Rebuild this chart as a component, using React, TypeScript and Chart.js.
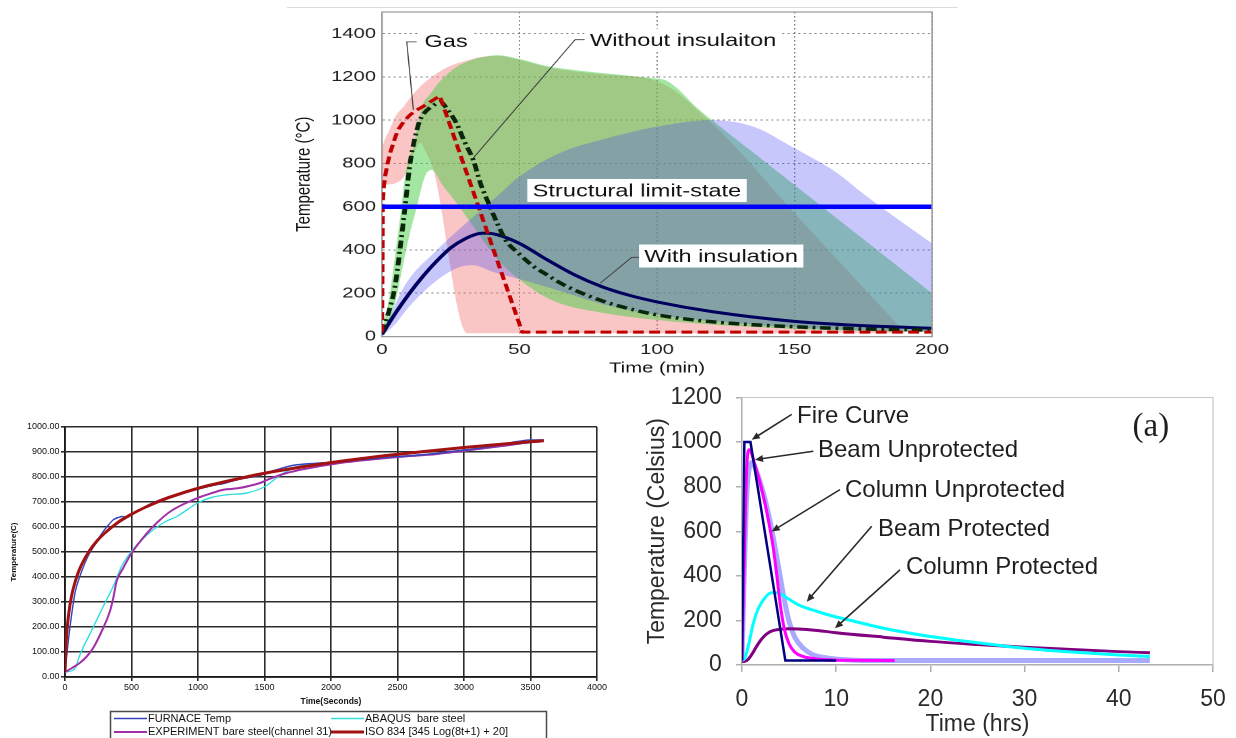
import React, { useEffect, useRef } from "react";
import { Chart, registerables } from "chart.js";

Chart.register(...registerables);

const SANS = '"Liberation Sans", Arial, Helvetica, sans-serif';
const SERIF = '"Liberation Serif", "Times New Roman", Times, serif';

type XY = { x: number; y: number };
const pts = (xs: number[], ys: number[]): XY[] => xs.map((x, i) => ({ x, y: ys[i] }));

/* ================= Upper panel: temperatures over minutes ================= */
const minuteTicks = [0, 50, 100, 150, 200];
const upperTempTicks = [0, 200, 400, 600, 800, 1000, 1200, 1400];

const limitTime = [0, 200];
const limitTemp = [600, 600];

const gasTime = [0, 0.3, 0.7, 1.2, 2, 3, 4, 5, 6, 8, 10, 12, 15, 18, 21, 51, 200];
const gasTemp = [20, 620, 700, 745, 800, 850, 890, 928, 958, 995, 1022, 1042, 1064, 1088, 1112, 20, 20];

const bareTime = [0, 2, 4.7, 6.5, 8.4, 10.2, 12, 13.8, 15.5, 17.5, 19.5, 21.1, 24, 27.1, 30, 33.2, 36, 39.3, 42, 45, 50, 55, 60, 65, 70, 80, 90, 100, 120, 150, 175, 200];
const bareTemp = [20, 95, 230, 400, 600, 800, 920, 1000, 1035, 1058, 1075, 1085, 1045, 985, 900, 815, 700, 600, 520, 445, 380, 325, 285, 246, 215, 165, 128, 100, 68, 45, 35, 30];

const insTime = [0, 5, 10, 15, 20, 25, 30, 35, 38, 42, 50, 60, 70, 80, 90, 100, 120, 150, 175, 200];
const insTemp = [10, 110, 200, 280, 350, 410, 450, 475, 478, 470, 430, 355, 285, 230, 190, 160, 115, 70, 50, 38];

// scatter envelopes (upper / lower bounds)
const gasHiTime = [0, 1, 2.9, 5, 7.8, 10, 13.8, 17, 19.9, 23, 27.2, 32, 36, 41.7, 50, 60, 80, 100, 120, 150, 190];
const gasHiTemp = [870, 910, 960, 1020, 1062, 1100, 1154, 1190, 1216, 1240, 1262, 1280, 1292, 1297, 1278, 1245, 1212, 1180, 985, 570, 20];
const gasLoTime = [0, 6, 9, 12, 14, 16, 18.7, 31, 190];
const gasLoTemp = [700, 715, 760, 860, 895, 850, 769, 15, 15];

const bareHiTime = [0, 2.9, 4.7, 6.5, 8.4, 10, 11.4, 13, 15, 17.5, 20.4, 24, 27.2, 32, 36, 42, 50, 60, 70, 80, 90, 100, 103, 108, 113, 120, 140, 160, 180, 200];
const bareHiTemp = [20, 200, 370, 540, 740, 830, 877, 980, 1077, 1120, 1170, 1215, 1247, 1275, 1290, 1300, 1283, 1250, 1232, 1218, 1205, 1192, 1185, 1140, 1075, 1000, 800, 600, 400, 200];
const bareLoTime = [0, 2, 4.7, 8, 10, 12.7, 15.6, 18.1, 22, 26.3, 32.4, 38.4, 44.5, 50.2, 57, 64.7, 80, 100, 120, 150, 175, 200];
const bareLoTemp = [20, 60, 153, 354, 470, 600, 740, 770, 700, 631, 523, 415, 323, 261, 200, 153, 110, 76, 55, 35, 25, 20];

const insHiTime = [0, 8, 20, 32, 42, 50, 65, 80, 100, 120, 135, 150, 165, 175, 190, 200];
const insHiTemp = [0, 230, 400, 540, 650, 740, 850, 910, 970, 1000, 970, 870, 760, 660, 520, 430];
const insLoTime = [0, 5, 10, 20, 28, 33, 40, 50, 65, 80, 100, 130, 160, 200];
const insLoTemp = [0, 60, 140, 260, 320, 330, 300, 265, 210, 150, 100, 60, 35, 25];

const upperNoteText = ["Gas", "Without insulaiton", "Structural limit-state", "With insulation"];
const upperNoteCenter: number[][] = [[23.3, 1365], [109.5, 1370], [92.7, 675], [123.3, 372]];
const upperNoteLeader: number[][][] = [
  [[12.6, 1362], [9.0, 1362], [11.4, 1047]],
  [[73.8, 1372], [70.2, 1372], [33.2, 825]],
  [],
  [[93.5, 366], [90.8, 366], [79.3, 246]],
];

/* ================= Lower-left panel: furnace test, seconds ================= */
const secondTicks = [0, 500, 1000, 1500, 2000, 2500, 3000, 3500, 4000];
const furnaceTempTicks = [0, 100, 200, 300, 400, 500, 600, 700, 800, 900, 1000];

const isoSec = [0, 5, 10, 20, 30, 45, 60, 90, 120, 180, 240, 300, 400, 500, 600, 750, 900, 1050, 1200, 1500, 1800, 2100, 2400, 2700, 3000, 3300, 3600];
const isoTemp = [20, 96, 147, 215, 261, 312, 349, 404, 444, 502, 544, 576, 619, 651, 678, 712, 739, 762, 781, 815, 842, 865, 885, 902, 918, 932, 945];

const furnaceSec = [0, 20, 40, 75, 110, 150, 190, 226, 260, 288, 330, 363, 400, 430, 460, 500, 600, 700, 800, 900, 1000, 1100, 1200, 1300, 1400, 1500, 1600, 1700, 1800, 1900, 2000, 2100, 2200, 2300, 2400, 2500, 2600, 2700, 2800, 2900, 3000, 3100, 3200, 3300, 3400, 3500, 3600];
const furnaceTemp = [20, 120, 210, 336, 400, 456, 500, 530, 560, 582, 610, 629, 638, 642, 638, 650, 680, 705, 722, 738, 752, 765, 775, 790, 800, 812, 830, 845, 852, 855, 858, 862, 868, 872, 878, 882, 885, 890, 895, 902, 908, 915, 922, 932, 942, 948, 948];

const experimentSec = [0, 50, 113, 160, 213, 276, 338, 363, 388, 438, 501, 600, 689, 800, 965, 1100, 1190, 1300, 1466, 1550, 1667, 1800, 2068, 2300, 2500, 2800, 3000, 3300, 3500, 3600];
const experimentTemp = [20, 35, 57, 80, 117, 183, 263, 316, 383, 436, 496, 565, 616, 665, 709, 735, 749, 755, 776, 795, 816, 832, 856, 870, 880, 892, 905, 925, 940, 945];

const abaqusSec = [0, 70, 113, 213, 288, 363, 426, 501, 580, 664, 750, 840, 1003, 1100, 1216, 1366, 1504, 1600, 1717, 1800, 2000, 2200, 2400, 2600, 2800, 3000, 3200, 3400, 3600];
const abaqusTemp = [20, 30, 90, 200, 283, 363, 443, 503, 550, 589, 620, 642, 698, 718, 729, 736, 762, 800, 836, 848, 858, 866, 876, 884, 893, 905, 918, 932, 945];

const furnaceLabels = ["ISO 834 [345 Log(8t+1) + 20]", "FURNACE Temp", "EXPERIMENT bare steel(channel 31)", "ABAQUS  bare steel"];

/* ================= Lower-right panel: members over hours ================= */
const hourTicks = [0, 10, 20, 30, 40, 50];
const celsiusTicks = [0, 200, 400, 600, 800, 1000, 1200];

const fireHrs = [0, 0.25, 0.9, 4.6, 10];
const fireTemp = [20, 1000, 1000, 20, 20];

const beamUnHrs = [0, 0.25, 0.5, 0.74, 1.5, 2.2, 2.8, 3.3, 3.7, 4.1, 4.5, 5, 5.6, 6.5, 8, 11, 16.2];
const beamUnTemp = [20, 500, 880, 966, 880, 770, 650, 530, 400, 260, 160, 95, 58, 38, 27, 21, 20];

const colUnHrs = [0, 0.2, 0.5, 0.8, 1.05, 1.7, 2.4, 3, 3.5, 4, 4.5, 5, 5.6, 6.5, 7.6, 9, 11, 15, 25, 43.3];
const colUnTemp = [20, 350, 760, 890, 908, 850, 750, 640, 530, 410, 290, 195, 125, 75, 45, 32, 24, 20, 20, 20];

const beamPrHrs = [0, 0.3, 0.7, 1.2, 1.7, 2.27, 2.8, 3.3, 4, 5, 6, 8, 10, 12, 15, 20, 25, 30, 35, 40, 43.3];
const beamPrTemp = [20, 30, 90, 187, 250, 292, 318, 325, 320, 295, 270, 240, 215, 195, 165, 128, 100, 75, 58, 45, 38];

const colPrHrs = [0, 0.5, 1, 1.5, 2, 2.5, 3, 4, 5, 6, 8, 10, 15, 20, 25, 30, 35, 40, 43.3];
const colPrTemp = [15, 20, 45, 80, 112, 135, 150, 160, 163, 162, 155, 145, 125, 106, 92, 80, 69, 60, 55];

const calloutText = ["Fire Curve", "Beam Unprotected", "Column Unprotected", "Beam Protected", "Column Protected"];
const calloutTextAt: number[][] = [[5.84, 1115], [8.07, 962], [10.93, 782], [14.44, 607], [17.4, 440]];
const calloutFrom: number[][] = [[5.28, 1124], [7.57, 959], [10.4, 787], [13.77, 622], [16.77, 427]];
const calloutTo: number[][] = [[1.03, 1011], [1.38, 921], [3.15, 599], [6.87, 284], [9.87, 165]];
const panelTag = "(a)";
const panelTagAt = [43.4, 1065];

/* ================= helpers ================= */
const fixedTicks = (values: number[]) => (s: any) => {
  s.ticks = values.map((v) => ({ value: v }));
};

// pin an axis box to an exact size and stop its labels from pushing the plot area around
const pinWidth = (w: number) => (s: any) => {
  s.width = w;
  s.paddingTop = 0;
  s.paddingBottom = 0;
  s.paddingLeft = 0;
  s.paddingRight = 0;
};
const pinHeight = (h: number) => (s: any) => {
  s.height = h;
  s.paddingTop = 0;
  s.paddingBottom = 0;
  s.paddingLeft = 0;
  s.paddingRight = 0;
};

function ChartBox(props: {
  build: () => any;
  left: number;
  top: number;
  width: number;
  height: number;
  cssWidth?: number;
}) {
  const ref = useRef<HTMLCanvasElement>(null);
  useEffect(() => {
    const chart = new Chart(ref.current as HTMLCanvasElement, props.build());
    return () => chart.destroy();
  }, []);
  return (
    <canvas
      ref={ref}
      width={props.width}
      height={props.height}
      style={{
        position: "absolute",
        left: props.left,
        top: props.top,
        width: props.cssWidth ?? props.width,
        height: props.height,
      }}
    />
  );
}

/* ---------- upper panel ---------- */
function upperConfig() {
  const line = (label: string, data: XY[], extra: any) => ({
    label,
    data,
    pointRadius: 0,
    fill: false,
    ...extra,
  });
  const band = (label: string, data: XY[], color: string | null) => ({
    label,
    data,
    pointRadius: 0,
    borderWidth: 0,
    borderColor: "rgba(0,0,0,0)",
    cubicInterpolationMode: "monotone",
    fill: color ? { target: "+1", above: color, below: color } : false,
  });
  const decor = {
    id: "upperDecor",
    afterDatasetsDraw(chart: any) {
      const { ctx, chartArea: a } = chart;
      const x = chart.scales.x;
      const y = chart.scales.y;
      ctx.save();
      ctx.strokeStyle = "#9a9a9a";
      ctx.lineWidth = 1.2;
      ctx.beginPath();
      ctx.moveTo(a.left, a.top);
      ctx.lineTo(a.right, a.top);
      ctx.lineTo(a.right, a.bottom);
      ctx.stroke();

      ctx.strokeStyle = "#3a3a3a";
      ctx.lineWidth = 0.8;
      upperNoteLeader.forEach((path) => {
        if (!path.length) return;
        ctx.beginPath();
        path.forEach(([t, v], k) => {
          const px = x.getPixelForValue(t);
          const py = y.getPixelForValue(v);
          if (k) ctx.lineTo(px, py);
          else ctx.moveTo(px, py);
        });
        ctx.stroke();
      });

      ctx.font = `17.5px ${SANS}`;
      ctx.textAlign = "center";
      ctx.textBaseline = "middle";
      upperNoteText.forEach((txt, i) => {
        const cx = x.getPixelForValue(upperNoteCenter[i][0]);
        const cy = y.getPixelForValue(upperNoteCenter[i][1]);
        const w = ctx.measureText(txt).width + 8;
        ctx.fillStyle = "#ffffff";
        ctx.fillRect(cx - w / 2, cy - 11.5, w, 23);
        ctx.fillStyle = "#111111";
        ctx.fillText(txt, cx, cy + 1);
      });
      ctx.restore();
    },
  };
  return {
    type: "line",
    data: {
      datasets: [
        line("Structural limit-state", pts(limitTime, limitTemp), {
          borderColor: "#0000ff",
          borderWidth: 4.5,
          tension: 0,
        }),
        line("Gas", pts(gasTime, gasTemp), {
          borderColor: "#c00000",
          borderWidth: 3,
          borderDash: [8, 4],
          tension: 0,
        }),
        line("Without insulaiton", pts(bareTime, bareTemp), {
          borderColor: "#0a260a",
          borderWidth: 3.5,
          borderDash: [8, 3.5, 2, 3.5],
          cubicInterpolationMode: "monotone",
        }),
        line("With insulation", pts(insTime, insTemp), {
          borderColor: "#00005e",
          borderWidth: 3,
          cubicInterpolationMode: "monotone",
        }),
        band("With insulation range", pts(insHiTime, insHiTemp), "rgba(70,70,245,0.3)"),
        band("With insulation low", pts(insLoTime, insLoTemp), null),
        band("Without insulation range", pts(bareHiTime, bareHiTemp), "rgba(70,205,70,0.5)"),
        band("Without insulation low", pts(bareLoTime, bareLoTemp), null),
        band("Gas range", pts(gasHiTime, gasHiTemp), "rgba(240,110,110,0.4)"),
        band("Gas low", pts(gasLoTime, gasLoTemp), null),
      ],
    },
    options: {
      responsive: false,
      animation: false,
      devicePixelRatio: 2,
      layout: { padding: { top: 12, right: 20.7, bottom: 0, left: 0 } },
      plugins: { legend: { display: false }, tooltip: { enabled: false } },
      scales: {
        x: {
          type: "linear",
          min: 0,
          max: 200,
          afterBuildTicks: fixedTicks(minuteTicks),
          afterFit: pinHeight(43.5),
          grid: { color: "rgba(105,105,105,0.85)", lineWidth: 1, drawTicks: false },
          border: { display: true, color: "#9a9a9a", width: 1.2, dash: [1.5, 2.5] },
          ticks: {
            font: { family: SANS, size: 15 },
            color: "#222",
            padding: 4.5,
            maxRotation: 0,
            autoSkip: false,
            callback: (v: any) => String(v),
          },
          title: {
            display: true,
            text: "Time (min)",
            font: { family: SANS, size: 15 },
            color: "#111",
            padding: { top: 0, bottom: 2.6 },
          },
        },
        y: {
          type: "linear",
          min: 0,
          max: 1500,
          afterBuildTicks: fixedTicks(upperTempTicks),
          afterFit: pinWidth(75.6),
          grid: { color: "rgba(105,105,105,0.85)", lineWidth: 1, drawTicks: false },
          border: { display: true, color: "#9a9a9a", width: 1.2, dash: [1.5, 2.5] },
          ticks: {
            font: { family: SANS, size: 15 },
            color: "#222",
            padding: 4.4,
            autoSkip: false,
            callback: (v: any) => String(v),
          },
          title: {
            display: true,
            text: "Temperature (°C)",
            font: { family: SANS, size: 15 },
            color: "#111",
            padding: { top: 8.8, bottom: 0 },
          },
        },
      },
    },
    plugins: [decor],
  };
}

/* ---------- lower-left panel ---------- */
function furnaceConfig() {
  const colors = ["#a31212", "#3445bb", "#a030a8", "#30dede"];
  const widths = [3, 1.4, 2, 1.4];
  const legendSlots = [[1, 1], [0, 0], [0, 1], [1, 0]];
  const legendDecor = {
    id: "furnaceLegend",
    afterDraw(chart: any) {
      const { ctx } = chart;
      ctx.save();
      ctx.strokeStyle = "#4a4a4a";
      ctx.lineWidth = 1.5;
      ctx.strokeRect(110.5, 301.5, 436, 40);
      ctx.font = `11px ${SANS}`;
      ctx.fillStyle = "#111";
      ctx.textBaseline = "middle";
      ctx.textAlign = "left";
      chart.data.datasets.forEach((ds: any, i: number) => {
        const [c, r] = legendSlots[i];
        const lx = [114, 331][c];
        const ly = [308.5, 322][r];
        ctx.strokeStyle = ds.borderColor;
        ctx.lineWidth = Math.max(1.5, ds.borderWidth);
        ctx.beginPath();
        ctx.moveTo(lx, ly);
        ctx.lineTo(lx + 33, ly);
        ctx.stroke();
        ctx.fillText(ds.label, lx + 34, ly);
      });
      ctx.restore();
    },
  };
  const series = [
    pts(isoSec, isoTemp),
    pts(furnaceSec, furnaceTemp),
    pts(experimentSec, experimentTemp),
    pts(abaqusSec, abaqusTemp),
  ];
  return {
    type: "line",
    data: {
      datasets: series.map((data, i) => ({
        label: furnaceLabels[i],
        data,
        borderColor: colors[i],
        borderWidth: widths[i],
        pointRadius: 0,
        fill: false,
        cubicInterpolationMode: "monotone",
      })),
    },
    options: {
      responsive: false,
      animation: false,
      devicePixelRatio: 1,
      layout: { padding: { top: 17, right: 23, bottom: 0, left: 0 } },
      plugins: { legend: { display: false }, tooltip: { enabled: false } },
      scales: {
        x: {
          type: "linear",
          min: 0,
          max: 4000,
          afterBuildTicks: fixedTicks(secondTicks),
          afterFit: pinHeight(61),
          grid: { color: "#2c2c2c", lineWidth: 1.6, tickLength: 4 },
          border: { display: true, color: "#1a1a1a", width: 1.8 },
          ticks: {
            font: { family: SANS, size: 9 },
            color: "#111",
            padding: 1.6,
            maxRotation: 0,
            autoSkip: false,
            callback: (v: any) => String(v),
          },
          title: {
            display: true,
            text: "Time(Seconds)",
            font: { family: SANS, size: 8.5, weight: "bold" },
            color: "#111",
            padding: { top: 0, bottom: 30.9 },
          },
        },
        y: {
          type: "linear",
          min: 0,
          max: 1000,
          afterBuildTicks: fixedTicks(furnaceTempTicks),
          afterFit: pinWidth(65),
          grid: { color: "#2c2c2c", lineWidth: 1.6, tickLength: 4 },
          border: { display: true, color: "#1a1a1a", width: 1.8 },
          ticks: {
            font: { family: SANS, size: 9 },
            color: "#111",
            padding: 1.5,
            autoSkip: false,
            callback: (v: any) => Number(v).toFixed(2),
          },
          title: {
            display: true,
            text: "Temperature(C)",
            font: { family: SANS, size: 8, weight: "bold" },
            color: "#111",
            padding: { top: 9.2, bottom: 0 },
          },
        },
      },
    },
    plugins: [legendDecor],
  };
}

/* ---------- lower-right panel ---------- */
function memberConfig() {
  const decor = {
    id: "memberDecor",
    afterDatasetsDraw(chart: any) {
      const { ctx, chartArea: a } = chart;
      const x = chart.scales.x;
      const y = chart.scales.y;
      ctx.save();
      ctx.strokeStyle = "#c8c8c8";
      ctx.lineWidth = 1.2;
      ctx.beginPath();
      ctx.moveTo(a.left, a.top);
      ctx.lineTo(a.right, a.top);
      ctx.lineTo(a.right, a.bottom);
      ctx.stroke();

      ctx.strokeStyle = "#2a2a2a";
      ctx.fillStyle = "#2a2a2a";
      ctx.lineWidth = 1.6;
      calloutFrom.forEach((f, i) => {
        const x0 = x.getPixelForValue(f[0]);
        const y0 = y.getPixelForValue(f[1]);
        const x1 = x.getPixelForValue(calloutTo[i][0]);
        const y1 = y.getPixelForValue(calloutTo[i][1]);
        const ang = Math.atan2(y1 - y0, x1 - x0);
        const head = 8;
        ctx.beginPath();
        ctx.moveTo(x0, y0);
        ctx.lineTo(x1 - Math.cos(ang) * head * 0.8, y1 - Math.sin(ang) * head * 0.8);
        ctx.stroke();
        ctx.beginPath();
        ctx.moveTo(x1, y1);
        ctx.lineTo(
          x1 - Math.cos(ang) * head + Math.sin(ang) * 3.5,
          y1 - Math.sin(ang) * head - Math.cos(ang) * 3.5
        );
        ctx.lineTo(
          x1 - Math.cos(ang) * head - Math.sin(ang) * 3.5,
          y1 - Math.sin(ang) * head + Math.cos(ang) * 3.5
        );
        ctx.closePath();
        ctx.fill();
      });

      ctx.font = `24px ${SANS}`;
      ctx.fillStyle = "#1e1e1e";
      ctx.textAlign = "left";
      ctx.textBaseline = "middle";
      calloutText.forEach((txt, i) => {
        ctx.fillText(txt, x.getPixelForValue(calloutTextAt[i][0]), y.getPixelForValue(calloutTextAt[i][1]));
      });

      ctx.font = `33px ${SERIF}`;
      ctx.textAlign = "center";
      ctx.fillText(panelTag, x.getPixelForValue(panelTagAt[0]), y.getPixelForValue(panelTagAt[1]));
      ctx.restore();
    },
  };
  const mk = (label: string, data: XY[], color: string, width: number, smooth: boolean) => ({
    label,
    data,
    borderColor: color,
    borderWidth: width,
    pointRadius: 0,
    fill: false,
    tension: 0,
    cubicInterpolationMode: smooth ? "monotone" : "default",
  });
  return {
    type: "line",
    data: {
      datasets: [
        mk("Fire Curve", pts(fireHrs, fireTemp), "#000080", 2.5, false),
        mk("Beam Unprotected", pts(beamUnHrs, beamUnTemp), "#ff00ff", 3, true),
        mk("Beam Protected", pts(beamPrHrs, beamPrTemp), "#00ffff", 3, true),
        mk("Column Protected", pts(colPrHrs, colPrTemp), "#800080", 3, true),
        mk("Column Unprotected", pts(colUnHrs, colUnTemp), "rgba(150,150,255,0.82)", 5, true),
      ],
    },
    options: {
      responsive: false,
      animation: false,
      devicePixelRatio: 1,
      layout: { padding: { top: 17.5, right: 23, bottom: 0, left: 0 } },
      plugins: { legend: { display: false }, tooltip: { enabled: false } },
      scales: {
        x: {
          type: "linear",
          min: 0,
          max: 50,
          afterBuildTicks: fixedTicks(hourTicks),
          afterFit: pinHeight(73),
          grid: { drawOnChartArea: false, drawTicks: true, tickLength: 7, color: "#b0b0b0", lineWidth: 1.5 },
          border: { display: true, color: "#b0b0b0", width: 1.5 },
          ticks: {
            font: { family: SANS, size: 23 },
            color: "#2a2a2a",
            padding: 14.2,
            maxRotation: 0,
            autoSkip: false,
            callback: (v: any) => String(v),
          },
          title: {
            display: true,
            text: "Time (hrs)",
            font: { family: SANS, size: 23 },
            color: "#2a2a2a",
            padding: { top: 0, bottom: 0 },
          },
        },
        y: {
          type: "linear",
          min: 0,
          max: 1200,
          afterBuildTicks: fixedTicks(celsiusTicks),
          afterFit: pinWidth(112),
          grid: { drawOnChartArea: false, drawTicks: true, tickLength: 6, color: "#b0b0b0", lineWidth: 1.5 },
          border: { display: true, color: "#b0b0b0", width: 1.5 },
          ticks: {
            font: { family: SANS, size: 23 },
            color: "#2a2a2a",
            padding: 14.3,
            autoSkip: false,
            callback: (v: any) => String(v),
          },
          title: {
            display: true,
            text: "Temperature (Celsius)",
            font: { family: SANS, size: 23 },
            color: "#2a2a2a",
            padding: { top: 14.2, bottom: 0 },
          },
        },
      },
    },
    plugins: [decor],
  };
}

export default function App() {
  return (
    <div
      style={{
        position: "fixed",
        left: 0,
        top: 0,
        width: 1236,
        height: 738,
        background: "#ffffff",
        overflow: "hidden",
      }}
    >
      <div style={{ position: "absolute", left: 287, top: 7, width: 671, height: 1, background: "#dcdcdc" }} />
      <ChartBox build={upperConfig} left={280} top={0} width={504} height={380} cssWidth={680} />
      <ChartBox build={furnaceConfig} left={0} top={410} width={620} height={328} />
      <ChartBox build={memberConfig} left={630} top={380} width={606} height={358} />
    </div>
  );
}
